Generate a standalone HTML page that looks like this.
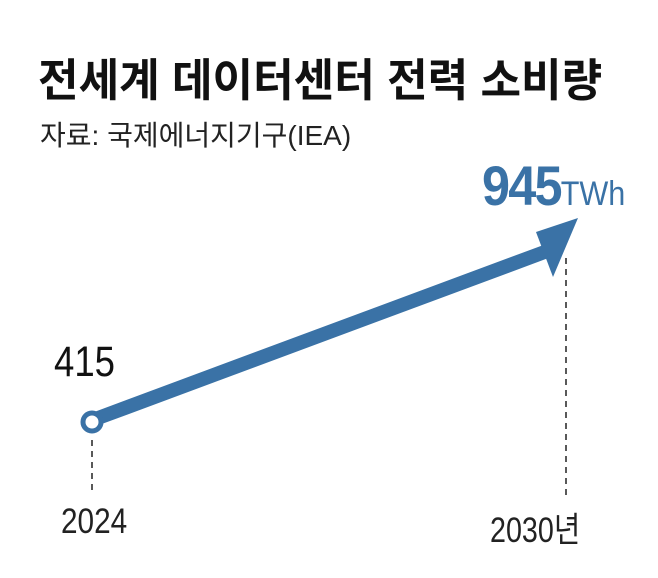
<!DOCTYPE html>
<html><head><meta charset="utf-8"><style>
body{margin:0;width:658px;height:578px;background:#fff;overflow:hidden;position:relative;font-family:"Liberation Sans","Noto Sans CJK KR",sans-serif}
.t{position:absolute;white-space:nowrap}
</style></head><body>
<div class="t" style="left:38px;top:44px;font-size:45px;font-weight:bold;color:#111;transform:scaleX(0.98);transform-origin:left">전세계 데이터센터 전력 소비량</div>
<div class="t" style="left:40px;top:114px;font-size:28px;color:#222">자료: 국제에너지기구(IEA)</div>
<div class="t" style="left:482px;top:158px;font-size:56px;font-weight:bold;color:#3a72a6;letter-spacing:-2px;transform:scaleX(0.9);transform-origin:left;line-height:56px">945<span style="font-size:34px;font-weight:normal;letter-spacing:0">TWh</span></div>
<div class="t" style="left:54px;top:338px;font-size:43px;color:#111;transform:scaleX(0.85);transform-origin:left">415</div>
<div class="t" style="left:61px;top:502px;font-size:35px;color:#222;transform:scaleX(0.85);transform-origin:left">2024</div>
<div class="t" style="left:490px;top:502px;font-size:35px;color:#222;transform:scaleX(0.82);transform-origin:left">2030년</div>
<svg width="658" height="578" style="position:absolute;left:0;top:0">
<line x1="92" y1="440" x2="92" y2="495" stroke="#222" stroke-width="1.5" stroke-dasharray="6,5"/>
<line x1="566" y1="258" x2="566" y2="495" stroke="#222" stroke-width="1.5" stroke-dasharray="6,5"/>
<line x1="98" y1="418" x2="550" y2="250" stroke="#3a72a6" stroke-width="14"/>
<polygon points="578,218 536,232 553,277" fill="#3a72a6"/>
<circle cx="92" cy="422" r="9" fill="#fff" stroke="#3a72a6" stroke-width="5"/>
</svg>
</body></html>
